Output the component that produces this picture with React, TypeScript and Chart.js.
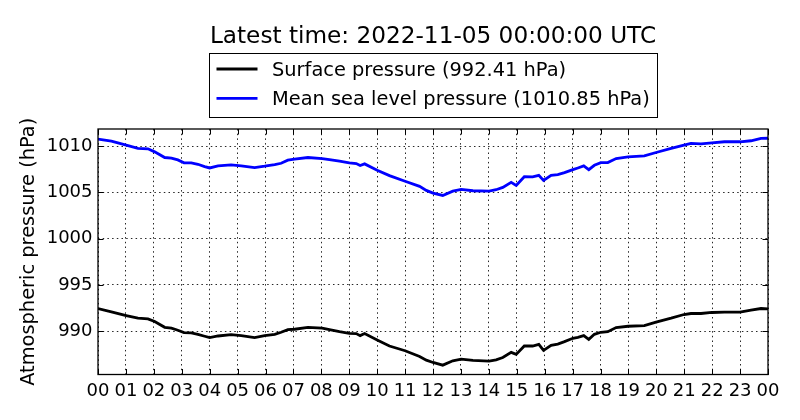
import React, { useRef, useEffect } from "react";
import { Chart, registerables, Plugin } from "chart.js";

// Înregistrăm toate componentele necesare pentru Chart.js
Chart.register(...registerables);

const TITLE = "Latest time: 2022-11-05 00:00:00 UTC";
const Y_TITLE = "Atmospheric pressure (hPa)";
const FONT = "'DejaVu Sans', 'Liberation Sans', sans-serif";

// Ora (UTC, ore de la 00:00) pentru fiecare punct
const hours = [
  0, 0.48, 1.01, 1.43, 1.79, 2.03, 2.39, 2.63, 2.86, 3.08, 3.34, 3.58, 3.82, 4.0, 4.3, 4.77, 5.13,
  5.61, 5.97, 6.33, 6.56, 6.8, 7.04, 7.52, 8.03,
  8.29, 8.65, 9.0, 9.25, 9.39, 9.55, 10.0, 10.44, 11.0, 11.52, 11.76, 12.0, 12.35, 12.71, 13.01,
  13.43, 14.01, 14.26, 14.5, 14.8, 14.98, 15.27, 15.57, 15.79, 15.96,
  16.23, 16.47, 16.71, 17.01, 17.19, 17.4, 17.58, 17.78, 18.01, 18.26, 18.56, 18.99, 19.57, 19.99,
  20.53, 20.99, 21.24, 21.6, 21.99, 22.44, 23.0, 23.39, 23.75, 24,
];

// Presiunea la suprafață (hPa)
const surfacePressure = [
  992.46, 992.1, 991.7, 991.41, 991.34, 991.05, 990.43, 990.33, 990.11, 989.86, 989.82, 989.67,
  989.46, 989.31, 989.49, 989.64, 989.53, 989.31, 989.53, 989.67, 989.89, 990.18, 990.22, 990.43,
  990.33,
  990.18, 989.96, 989.78, 989.75, 989.53, 989.75, 989.06, 988.41, 987.9, 987.28, 986.88, 986.63,
  986.34, 986.81, 986.99, 986.85, 986.78, 986.92, 987.17, 987.72, 987.5, 988.41, 988.41, 988.59,
  987.93,
  988.48, 988.62, 988.88, 989.24, 989.35, 989.53, 989.13, 989.67, 989.89, 989.96, 990.4, 990.54,
  990.62, 990.98, 991.41, 991.81, 991.92, 991.92, 992.03, 992.07, 992.07, 992.28, 992.46, 992.41,
];

// Presiunea redusă la nivelul mării (hPa)
const seaLevelPressure = [
  1010.76, 1010.54, 1010.11, 1009.75, 1009.71, 1009.38, 1008.77, 1008.7, 1008.51, 1008.19, 1008.19,
  1008.04, 1007.79, 1007.64, 1007.86, 1007.97, 1007.86, 1007.68, 1007.83, 1008.01, 1008.15,
  1008.48, 1008.59, 1008.77, 1008.66,
  1008.55, 1008.37, 1008.19, 1008.12, 1007.9, 1008.08, 1007.39, 1006.81, 1006.2, 1005.65, 1005.22,
  1004.93, 1004.67, 1005.14, 1005.33, 1005.18, 1005.14, 1005.29, 1005.54, 1006.09, 1005.76,
  1006.7, 1006.67, 1006.85, 1006.3,
  1006.85, 1006.92, 1007.14, 1007.46, 1007.64, 1007.86, 1007.46, 1007.93, 1008.22, 1008.22,
  1008.66, 1008.84, 1008.95, 1009.31, 1009.75, 1010.11, 1010.29, 1010.25, 1010.36, 1010.47,
  1010.47, 1010.58, 1010.83, 1010.85,
];

const hourTicks = [0, 1, 2, 3, 4, 5, 6, 7, 8, 9, 10, 11, 12, 13, 14, 15, 16, 17, 18, 19, 20, 21, 22, 23, 24];
const hourLabels = [
  "00", "01", "02", "03", "04", "05", "06", "07", "08", "09", "10", "11",
  "12", "13", "14", "15", "16", "17", "18", "19", "20", "21", "22", "23", "00",
];
const pressureTicks = [990, 995, 1000, 1005, 1010];

const Y_MIN = 985.33;
const Y_MAX = 1011.85;

// Chenarul axelor + liniuțe orientate spre interior (stil matplotlib clasic)
const framePlugin: Plugin<"line"> = {
  id: "mplFrame",
  afterDatasetsDraw(chart) {
    const { ctx, chartArea: a, scales } = chart;
    const len = 5.5;
    ctx.save();
    ctx.strokeStyle = "#000";
    ctx.lineWidth = 1;
    ctx.beginPath();
    scales.x.ticks.forEach((t) => {
      const px = Math.round(scales.x.getPixelForValue(t.value)) + 0.5;
      ctx.moveTo(px, a.bottom);
      ctx.lineTo(px, a.bottom - len);
      ctx.moveTo(px, a.top);
      ctx.lineTo(px, a.top + len);
    });
    scales.y.ticks.forEach((t) => {
      const py = Math.round(scales.y.getPixelForValue(t.value)) + 0.5;
      ctx.moveTo(a.left, py);
      ctx.lineTo(a.left + len, py);
      ctx.moveTo(a.right, py);
      ctx.lineTo(a.right - len, py);
    });
    ctx.stroke();
    ctx.lineWidth = 1.3;
    ctx.strokeRect(a.left, a.top, a.right - a.left, a.bottom - a.top);
    ctx.restore();
  },
};

// Titlul și legenda cu chenar, desenate deasupra zonei graficului
const legendPlugin: Plugin<"line"> = {
  id: "mplLegend",
  afterDraw(chart) {
    const { ctx, chartArea: a } = chart;
    const cx = (a.left + a.right) / 2;
    ctx.save();
    ctx.fillStyle = "#000";
    ctx.font = `23.2px ${FONT}`;
    ctx.textAlign = "center";
    ctx.textBaseline = "alphabetic";
    ctx.fillText(TITLE, cx, 43.3);

    const boxW = 448;
    const boxX = Math.round(cx - boxW / 2) + 0.5;
    ctx.fillStyle = "#fff";
    ctx.fillRect(boxX, 53.5, boxW, 64);
    ctx.strokeStyle = "#000";
    ctx.lineWidth = 1;
    ctx.strokeRect(boxX, 53.5, boxW, 64);

    ctx.font = `19.4px ${FONT}`;
    ctx.textAlign = "left";
    chart.data.datasets.forEach((ds, i) => {
      const y = 69 + i * 29.3;
      ctx.strokeStyle = ds.borderColor as string;
      ctx.lineWidth = 2.8;
      ctx.beginPath();
      ctx.moveTo(boxX + 7, y);
      ctx.lineTo(boxX + 48, y);
      ctx.stroke();
      ctx.fillStyle = "#000";
      ctx.fillText(ds.label || "", boxX + 62.5, y + 7);
    });
    ctx.restore();
  },
};

const PressureChart: React.FC = () => {
  const chartRef = useRef<HTMLCanvasElement>(null);
  const chartInstance = useRef<Chart | null>(null);

  useEffect(() => {
    if (!chartRef.current) return;
    if (chartInstance.current) chartInstance.current.destroy();

    const ctx = chartRef.current.getContext("2d");
    if (!ctx) return;

    const latestSurface = surfacePressure[surfacePressure.length - 1];
    const latestSea = seaLevelPressure[seaLevelPressure.length - 1];

    chartInstance.current = new Chart(ctx, {
      type: "line",
      data: {
        datasets: [
          {
            label: `Surface pressure (${latestSurface.toFixed(2)} hPa)`,
            data: hours.map((h, i) => ({ x: h, y: surfacePressure[i] })),
            borderColor: "#000000",
            borderWidth: 2.8,
            pointRadius: 0,
            tension: 0,
          },
          {
            label: `Mean sea level pressure (${latestSea.toFixed(2)} hPa)`,
            data: hours.map((h, i) => ({ x: h, y: seaLevelPressure[i] })),
            borderColor: "#0000ff",
            borderWidth: 2.8,
            pointRadius: 0,
            tension: 0,
          },
        ],
      },
      options: {
        responsive: false,
        animation: false,
        layout: { padding: { top: 129, right: 32, bottom: 0, left: 0 } },
        scales: {
          x: {
            type: "linear",
            min: 0,
            max: 24,
            afterBuildTicks: (scale) => {
              scale.ticks = hourTicks.map((v) => ({ value: v }));
            },
            afterFit: (scale) => {
              scale.height = 45.5;
            },
            ticks: {
              autoSkip: false,
              maxRotation: 0,
              padding: 6,
              color: "#000",
              font: { family: FONT, size: 18 },
              callback: (_value, index) => hourLabels[index],
            },
            grid: { color: "rgba(0,0,0,0.85)", lineWidth: 1, drawTicks: false },
            border: { display: false, dash: [1.5, 3.2] },
          },
          y: {
            type: "linear",
            min: Y_MIN,
            max: Y_MAX,
            afterBuildTicks: (scale) => {
              scale.ticks = pressureTicks.map((v) => ({ value: v }));
            },
            afterFit: (scale) => {
              scale.width = 98;
            },
            ticks: {
              padding: 5.5,
              color: "#000",
              font: { family: FONT, size: 18 },
              callback: (value) => String(value),
            },
            title: {
              display: true,
              text: Y_TITLE,
              color: "#000",
              font: { family: FONT, size: 19.4 },
              padding: { top: 17, bottom: 0 },
            },
            grid: { color: "rgba(0,0,0,0.85)", lineWidth: 1, drawTicks: false },
            border: { display: false, dash: [1.5, 3.2] },
          },
        },
        plugins: {
          legend: { display: false },
          title: { display: false },
          tooltip: { enabled: false },
        },
      },
      plugins: [framePlugin, legendPlugin],
    });

    // Curățare la demontarea componentei
    return () => {
      if (chartInstance.current) {
        chartInstance.current.destroy();
        chartInstance.current = null;
      }
    };
  }, []);

  return (
    <div style={{ position: "absolute", left: 0, top: 0, width: 800, height: 420, background: "#fff" }}>
      <canvas ref={chartRef} width={800} height={420}></canvas>
    </div>
  );
};

export default function App() {
  return <PressureChart />;
}
